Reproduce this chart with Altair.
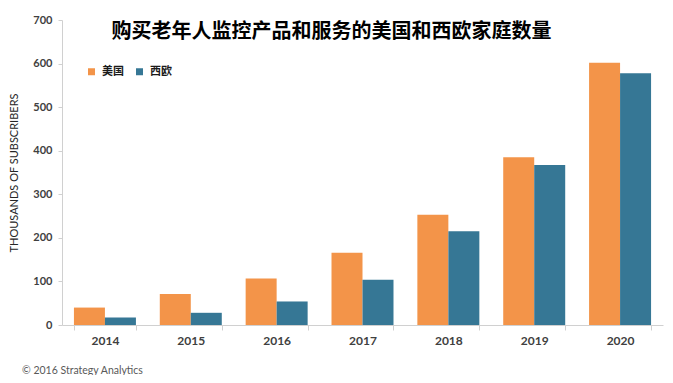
import altair as alt
import pandas as pd

years = ["2014", "2015", "2016", "2017", "2018", "2019", "2020"]
us_values = [40, 71, 107, 166, 253, 385, 602]
eu_values = [17, 28, 54, 104, 215, 367, 578]
series_names = ["美国", "西欧"]
series_colors = ["#F39449", "#367795"]

title_text = "购买老年人监控产品和服务的美国和西欧家庭数量"
y_title = "THOUSANDS OF SUBSCRIBERS"
credit = "© 2016 Strategy Analytics"

rows = []
for y, u, e in zip(years, us_values, eu_values):
    rows.append({"year": y, "series": series_names[0], "value": u})
    rows.append({"year": y, "series": series_names[1], "value": e})
df = pd.DataFrame(rows)

latin = "Lato"
cjk = "Noto Sans CJK SC"

bars = alt.Chart(df).mark_bar().encode(
    x=alt.X(
        "year:N",
        sort=years,
        scale=alt.Scale(paddingInner=0.278, paddingOuter=0.139),
        axis=alt.Axis(
            title=None,
            labelAngle=0,
            labelFont=latin,
            labelFontWeight="bold",
            labelFontSize=12,
            labelColor="#404040",
            labelPadding=5,
            tickBand="extent",
            tickSize=5,
            tickColor="#d0d0d0",
            domainColor="#d0d0d0",
            grid=False,
        ),
    ),
    xOffset=alt.XOffset("series:N", sort=series_names, scale=alt.Scale(paddingInner=0, paddingOuter=0)),
    y=alt.Y(
        "value:Q",
        scale=alt.Scale(domain=[0, 700], nice=False),
        axis=alt.Axis(
            title=y_title,
            titleFont=latin,
            titleFontWeight="normal",
            titleFontSize=11,
            titleColor="#262626",
            titlePadding=13,
            values=[0, 100, 200, 300, 400, 500, 600, 700],
            labelFont=latin,
            labelFontWeight="bold",
            labelFontSize=11,
            labelColor="#404040",
            labelPadding=6,
            tickSize=4,
            tickColor="#d0d0d0",
            domainColor="#d0d0d0",
            grid=False,
        ),
    ),
    color=alt.Color(
        "series:N",
        sort=series_names,
        scale=alt.Scale(domain=series_names, range=series_colors),
        legend=alt.Legend(
            title=None,
            orient="none",
            direction="horizontal",
            legendX=24,
            legendY=46,
            symbolType="square",
            symbolSize=49,
            symbolStrokeWidth=0,
            labelFont=cjk,
            labelFontWeight="bold",
            labelFontSize=11,
            labelColor="#1a1a1a",
            labelOffset=5,
            columnPadding=10,
            padding=0,
        ),
    ),
)

credit_text = alt.Chart(pd.DataFrame({"t": [credit]})).mark_text(
    align="left", baseline="middle", font=latin, fontSize=10.5, color="#595959"
).encode(text="t:N", x=alt.value(-40), y=alt.value(351))

chart = (
    alt.layer(bars, credit_text)
    .properties(
        width=601,
        height=305,
        autosize=alt.AutoSizeParams(type="none"),
        padding={"left": 54, "top": 12, "right": 2, "bottom": 50},
        title=alt.TitleParams(
            text=title_text,
            font=cjk,
            fontSize=20,
            fontWeight="bold",
            color="#000000",
            anchor="middle",
            frame="group",
            baseline="middle",
            dx=-31,
            dy=42,
        ),
    )
    .configure_view(stroke=None)
)

chart.save("out.html", embed_options={"renderer": "svg", "actions": False})
